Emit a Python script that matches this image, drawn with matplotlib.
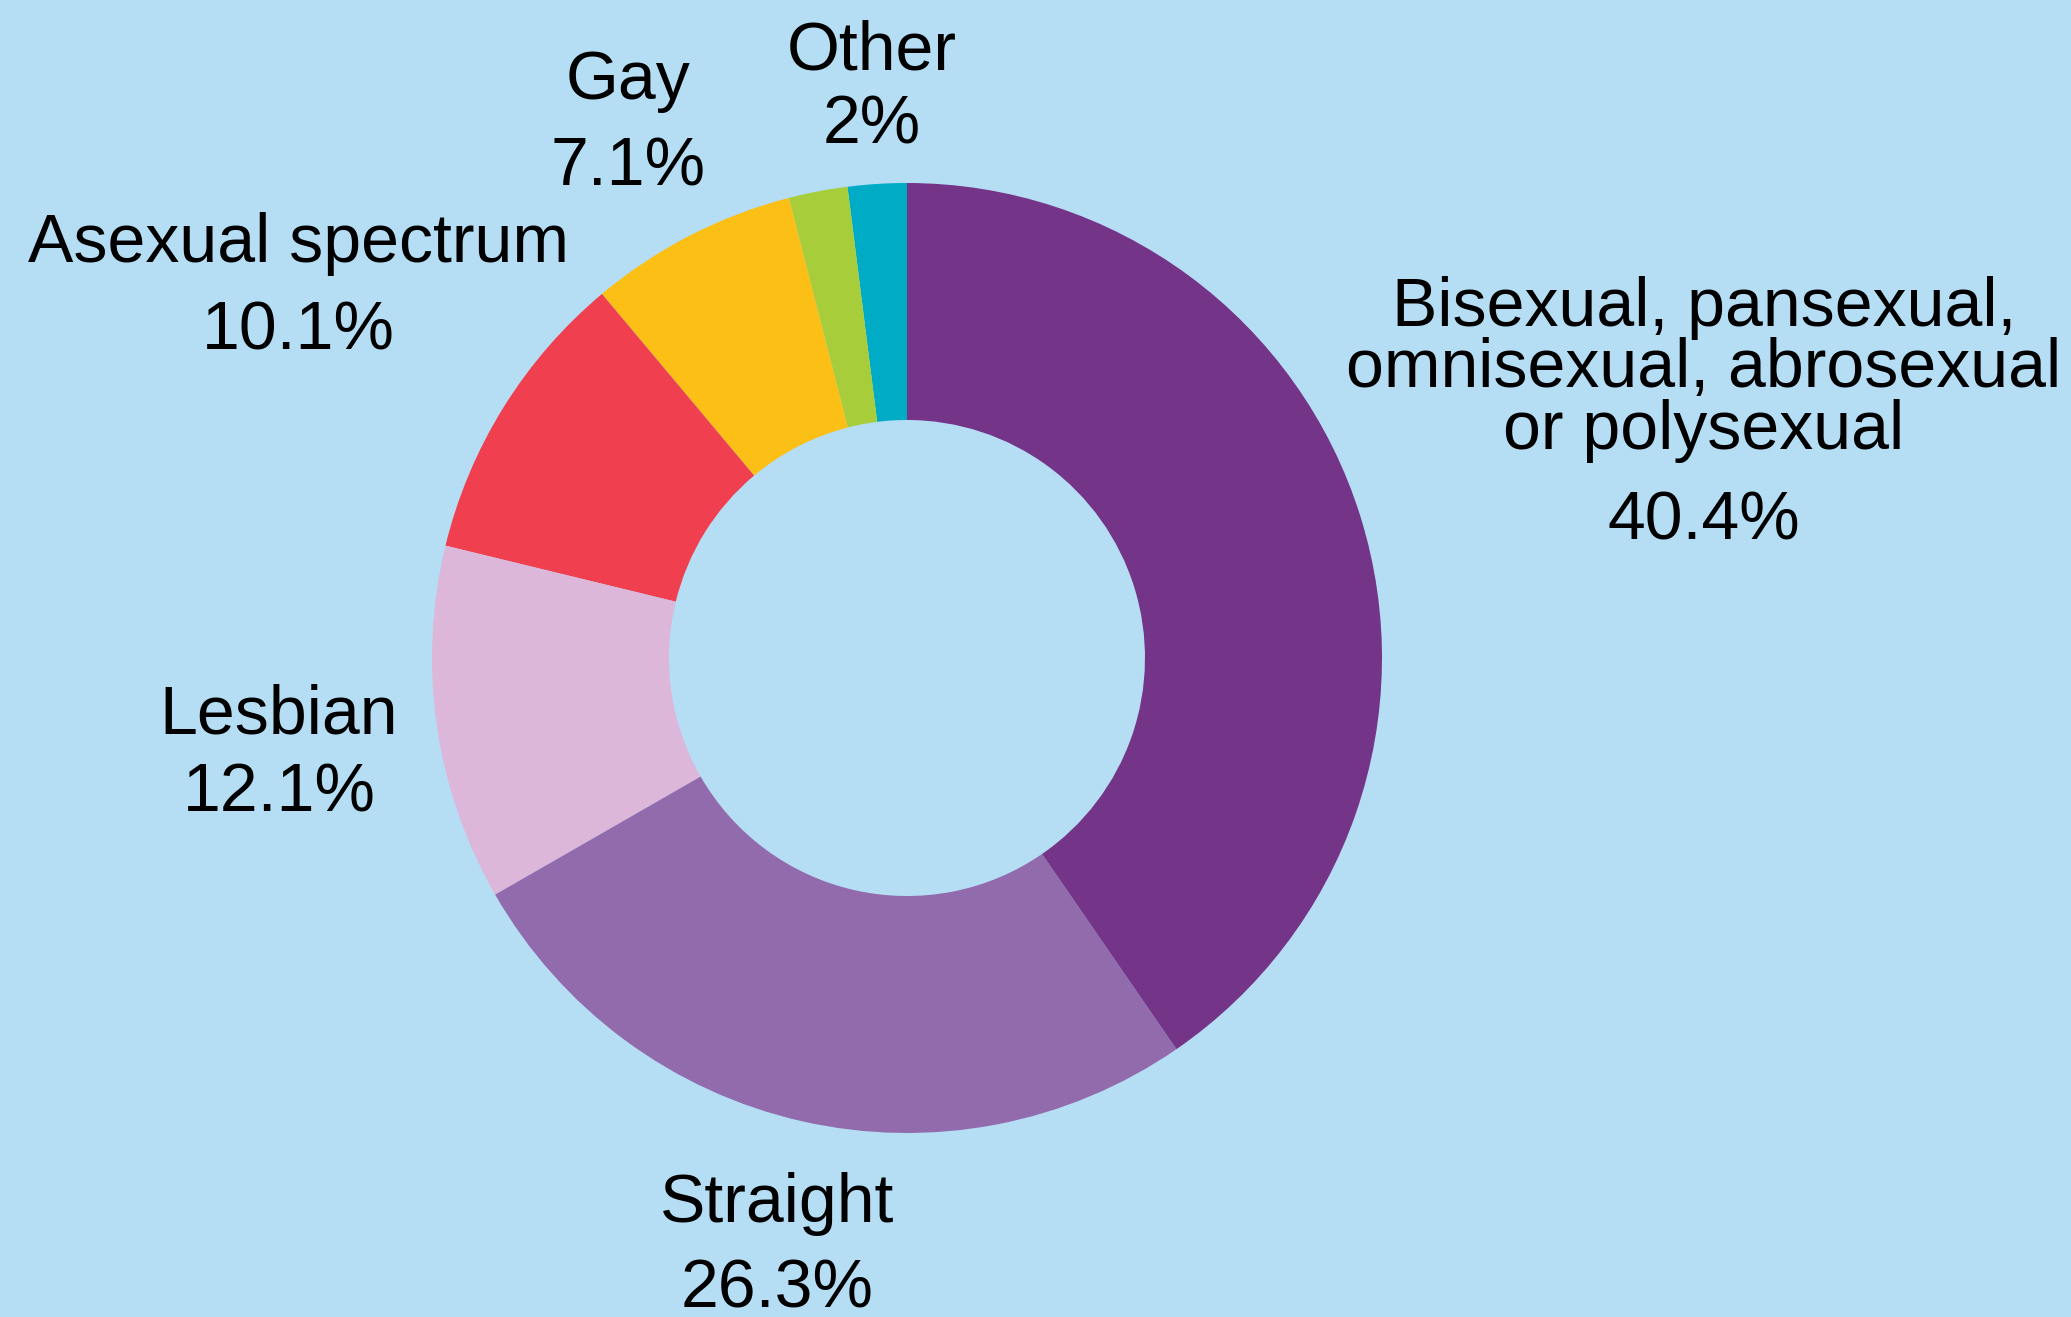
import matplotlib
matplotlib.use("Agg")
import matplotlib.pyplot as plt

# ---- data (counter-clockwise from 12 o'clock) ----
categories = ["Other", "", "Gay", "Asexual spectrum", "Lesbian", "Straight",
              "Bisexual, pansexual,\nomnisexual, abrosexual\nor polysexual"]
values = [2.0, 2.0, 7.1, 10.1, 12.1, 26.3, 40.4]
colors = ["#00abc6", "#a7cd3a", "#fbbf15", "#f04050", "#dcb7d9", "#926bad", "#743589"]

# ---- layout (pixel coordinates, y measured from top) ----
W, H = 2071, 1317
BG = "#b5def5"
center_px = (907, 658)
r_out = 475
r_in = 238
# (x centre, first-line baseline, line step, percent baseline)
label_pos = [
    (872, 69, 0, 143),
    None,
    (628, 99, 0, 185),
    (298, 262, 0, 350),
    (279, 734, 0, 811),
    (777, 1222, 0, 1308),
    (1704, 326, 61.5, 539),
]

plt.rcParams["font.family"] = ["Liberation Sans", "DejaVu Sans"]
fig = plt.figure(figsize=(W / 100, H / 100), dpi=100, facecolor=BG)
ax = fig.add_axes([0, 0, 1, 1])
ax.set_facecolor(BG)

cx, cy = center_px[0], H - center_px[1]
ax.pie(values, colors=colors, startangle=90, counterclock=True,
       center=(cx, cy), radius=r_out,
       wedgeprops=dict(width=r_out - r_in, linewidth=0))

ax.set_xlim(0, W)
ax.set_ylim(0, H)
ax.set_aspect("equal")
ax.axis("off")

fs = 49
for cat, v, pos in zip(categories, values, label_pos):
    if pos is None or not cat:
        continue
    x, y0, step, yp = pos
    for i, line in enumerate(cat.split("\n")):
        ax.text(x, H - (y0 + i * step), line, ha="center", va="baseline",
                fontsize=fs, color="black")
    ax.text(x, H - yp, f"{v:g}%", ha="center", va="baseline",
            fontsize=fs, color="black")

fig.savefig("out.png", dpi=100, facecolor=BG)
